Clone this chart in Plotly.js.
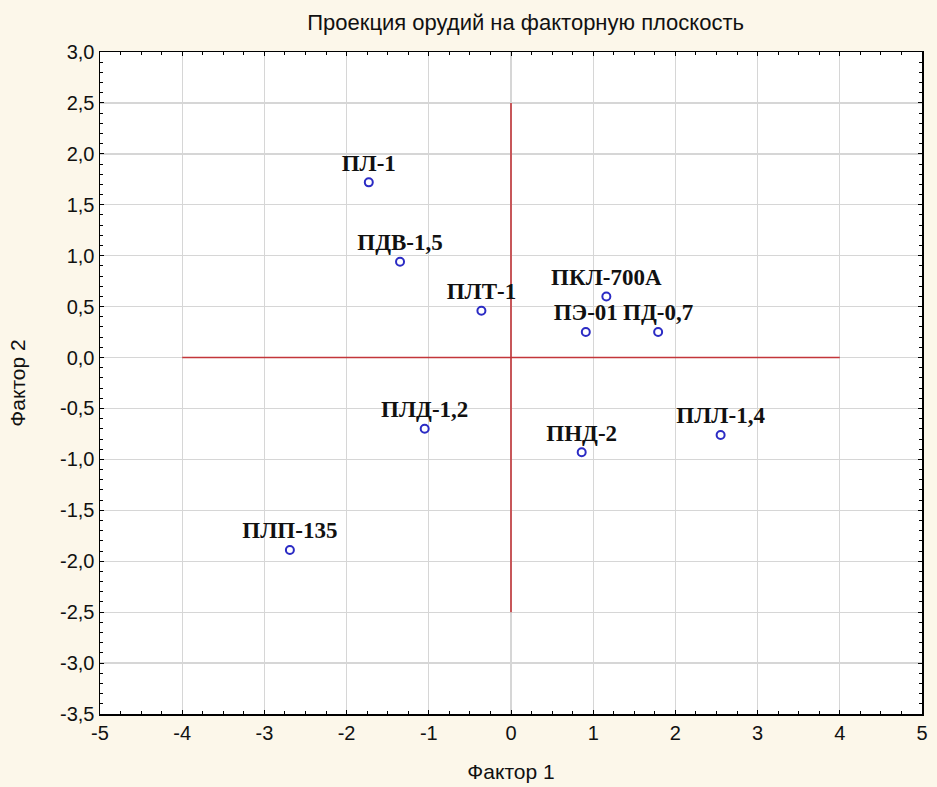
<!DOCTYPE html>
<html><head><meta charset="utf-8">
<script src="https://cdn.plot.ly/plotly-3.0.1.min.js"></script>
<style>html,body{margin:0;padding:0;background:#fcf7ea;}</style>
</head><body>
<div id="chart" style="width:937px;height:787px;"></div>
<script>
const names = ["ПЛ-1","ПДВ-1,5","ПЛТ-1","ПКЛ-700А","ПЭ-01","ПД-0,7","ПЛД-1,2","ПНД-2","ПЛЛ-1,4","ПЛП-135"];
const factor1 = [-1.73,-1.35,-0.36,1.16,0.91,1.79,-1.05,0.86,2.55,-2.69];
const factor2 = [1.72,0.94,0.46,0.60,0.25,0.25,-0.70,-0.93,-0.76,-1.89];
const hLineX = [-4,4], hLineY = [0,0];
const vLineX = [0,0], vLineY = [-2.5,2.5];
const xTickVals = [-5,-4,-3,-2,-1,0,1,2,3,4,5];
const xTickText = ["-5","-4","-3","-2","-1","0","1","2","3","4","5"];
const yTickVals = [3,2.5,2,1.5,1,0.5,0,-0.5,-1,-1.5,-2,-2.5,-3,-3.5];
const yTickText = ["3,0","2,5","2,0","1,5","1,0","0,5","0,0","-0,5","-1,0","-1,5","-2,0","-2,5","-3,0","-3,5"];

const sans = "Liberation Sans, Arial, sans-serif";
const axisFont = {family:sans, size:20, color:"#111"};
const traces = [
  {x:hLineX, y:hLineY, mode:"lines", line:{color:"#c3363a", width:1.6}, hoverinfo:"skip"},
  {x:vLineX, y:vLineY, mode:"lines", line:{color:"#c3363a", width:1.6}, hoverinfo:"skip"},
  {x:factor1, y:factor2, text:names, mode:"markers+text", textposition:"top center",
   textfont:{family:"Liberation Serif, Times New Roman, serif", size:23, color:"#111", weight:"bold"},
   marker:{symbol:"circle-open", size:8, color:"#2b2bc4", line:{width:2, color:"#2b2bc4"}}}
];
const layout = {
  width:937, height:787, showlegend:false,
  paper_bgcolor:"#fcf7ea", plot_bgcolor:"#ffffff",
  margin:{l:100, r:15, t:52, b:73},
  title:{text:"Проекция орудий на факторную плоскость", x:0.561, xanchor:"center", y:0.972, yanchor:"middle",
         font:{family:sans, size:22, color:"#111"}},
  xaxis:{range:[-5,5], tickmode:"array", tickvals:xTickVals, ticktext:xTickText, tickfont:axisFont,
         showgrid:true, gridcolor:"#d6d6d6", gridwidth:1.3, zeroline:false,
         showline:true, linecolor:"#000", linewidth:1.5, mirror:"ticks",
         ticks:"inside", ticklen:4, tickcolor:"#000",
         minor:{dtick:0.25, ticks:"inside", ticklen:3, tickcolor:"#000", showgrid:false},
         title:{text:"Фактор 1", font:{family:sans, size:21, color:"#111"}, standoff:22}},
  yaxis:{range:[-3.5,3], tickmode:"array", tickvals:yTickVals, ticktext:yTickText, tickfont:axisFont,
         showgrid:true, gridcolor:"#d6d6d6", gridwidth:1.3, zeroline:false,
         showline:true, linecolor:"#000", linewidth:1.5, mirror:"ticks",
         ticks:"inside", ticklen:4, tickcolor:"#000",
         minor:{dtick:0.1, ticks:"inside", ticklen:3, tickcolor:"#000", showgrid:false},
         title:{text:"Фактор 2", font:{family:sans, size:21, color:"#111"}, standoff:28}}
};
Plotly.newPlot("chart", traces, layout, {displayModeBar:false, staticPlot:true});
</script>
</body></html>
